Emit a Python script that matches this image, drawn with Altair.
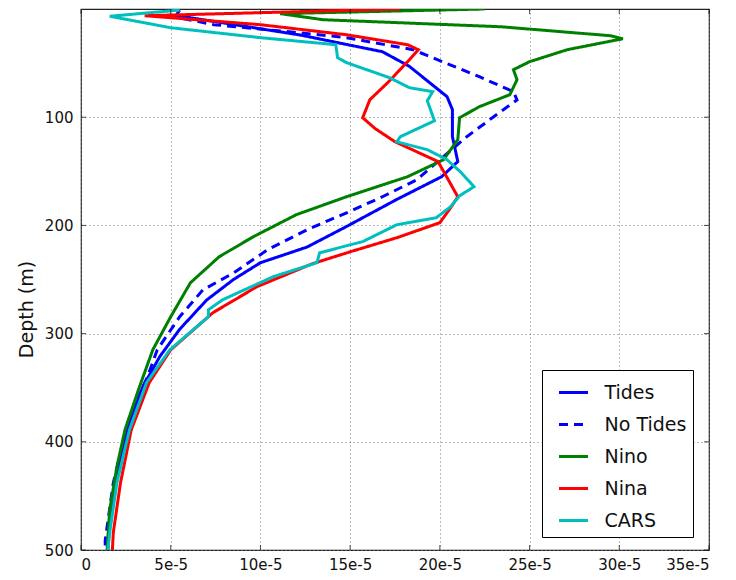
import altair as alt
import pandas as pd

# Values are in units of 1e-5 (axis labels read "5e-5", "10e-5", ...); depth in metres.
series_names = ["Tides", "No Tides", "Nino", "Nina", "CARS"]
series_colors = ["#0000ff", "#0000ff", "#008000", "#ff0000", "#00bfbf"]
series_dashes = [[1, 0], [9, 6], [1, 0], [1, 0], [1, 0]]

tides_depth = [1, 6, 24, 39.5, 53, 81, 93, 102, 118, 141, 155, 176, 201, 220, 234.5,
               250, 269, 296, 321, 349, 382, 432, 469, 500]
tides_value = [5.5, 5.3, 12.2, 16.8, 18.3, 20.4, 20.7, 20.7, 20.7, 21.0, 20.1, 17.6, 14.8,
               12.6, 10.0, 8.5, 7.0, 5.5, 4.4, 3.45, 2.7, 2.0, 1.6, 1.5]

notides_depth = [6, 14.5, 22, 26.5, 37.6, 62.6, 76.4, 84, 99.6, 118, 136.5, 158, 173.5,
                 185.5, 204, 222.5, 244, 259.5, 284.4, 315, 340, 377, 438, 491, 500]
notides_value = [4.85, 7.4, 12.2, 14.8, 18.5, 22.2, 24.1, 24.3, 23.0, 21.5, 20.2, 18.7,
                 16.8, 15.2, 12.6, 10.4, 8.5, 6.8, 5.5, 4.25, 3.7, 2.7, 1.8, 1.35, 1.35]

nino_depth = [0, 4.3, 9.9, 16.4, 24.7, 27.5, 37.6, 48.7, 56.1, 65.4, 79.2, 90.3, 100.5,
              120.8, 139.3, 155, 173.5, 190.1, 210.5, 229, 253, 284.4, 315, 352, 389, 423,
              463, 500]
nino_value = [22.5, 11.1, 13.5, 23.4, 29.5, 30.2, 27.1, 25.0, 24.1, 24.3, 23.9, 22.2, 21.1,
              21.0, 20.2, 18.2, 14.8, 12.0, 9.6, 7.7, 6.1, 5.0, 4.0, 3.2, 2.45, 2.0, 1.6, 1.45]

nina_depth = [0, 6.2, 14.5, 23.8, 33, 37.6, 46.9, 68, 83.8, 100.5, 110.6, 122.7, 141, 173.5,
              183.7, 197.5, 211.4, 224.4, 235.4, 256.7, 280.7, 315, 345.4, 389, 438, 484, 500]
nina_value = [17.8, 3.55, 10.0, 14.8, 18.2, 18.8, 18.3, 17.1, 16.1, 15.7, 16.4, 17.5, 19.9,
              21.0, 20.6, 20.0, 17.6, 15.0, 12.9, 9.8, 7.35, 5.0, 3.8, 2.8, 2.2, 1.8, 1.75]

cars_depth = [1, 6.7, 17.3, 26.5, 33, 45, 49.6, 63.5, 72.7, 76.4, 84.8, 103.3, 118, 122.7,
              130, 139.3, 151.3, 164.3, 172.6, 182.7, 192.9, 199.4, 215, 225.3, 234.5, 247.5,
              268.7, 278, 284.4, 296.5, 315, 345.4, 389, 438, 484, 500]
cars_value = [5.5, 1.6, 5.0, 10.0, 14.2, 14.3, 14.8, 17.2, 18.3, 19.6, 19.3, 19.7, 17.8, 17.6,
              19.3, 20.4, 21.2, 21.9, 21.1, 20.6, 19.8, 17.6, 15.7, 13.3, 13.15, 10.7, 7.9,
              7.1, 7.1, 6.25, 4.95, 3.65, 2.7, 2.0, 1.6, 1.5]

x_ticks = [0, 5, 10, 15, 20, 25, 30, 35]
y_ticks = [100, 200, 300, 400, 500]

all_depths = [tides_depth, notides_depth, nino_depth, nina_depth, cars_depth]
all_values = [tides_value, notides_value, nino_value, nina_value, cars_value]

rows = []
for name, depths, vals in zip(series_names, all_depths, all_values):
    for i, (d, v) in enumerate(zip(depths, vals)):
        rows.append({"series": name, "idx": i, "depth": d, "value": v})
df = pd.DataFrame(rows)

W, H = 628, 541
xscale = alt.Scale(domain=[0, 35], nice=False, zero=False)
yscale = alt.Scale(domain=[0, 500], reverse=True, nice=False, zero=False)

x_axis = alt.Axis(values=x_ticks, title=None, grid=True, ticks=False, tickSize=0,
                  domain=False, labelPadding=7,
                  labelExpr="datum.value == 0 ? '0' : datum.value + 'e-5'")
y_axis = alt.Axis(values=y_ticks, title="Depth (m)", grid=True, ticks=False,
                  tickSize=0, domain=False, labelPadding=8,
                  titleX=-55, titleY=300, titleAngle=270,
                  titleAlign="center", titleBaseline="middle")

lines = alt.Chart(df).mark_line(strokeWidth=3, clip=True).encode(
    x=alt.X("value:Q", scale=xscale, axis=x_axis),
    y=alt.Y("depth:Q", scale=yscale, axis=y_axis),
    color=alt.Color("series:N", scale=alt.Scale(domain=series_names, range=series_colors),
                    legend=alt.Legend(title=None)),
    strokeDash=alt.StrokeDash("series:N",
                              scale=alt.Scale(domain=series_names, range=series_dashes),
                              legend=alt.Legend(title=None)),
    order=alt.Order("idx:Q"),
)

xt_df = pd.DataFrame({"value": x_ticks})
yt_df = pd.DataFrame({"depth": y_ticks})

tick_len = 5
xt_bottom = alt.Chart(xt_df).mark_tick(orient="vertical", size=tick_len, thickness=1,
                                       color="black").encode(
    x=alt.X("value:Q", scale=xscale, axis=x_axis), y=alt.value(H - tick_len / 2))
xt_top = alt.Chart(xt_df).mark_tick(orient="vertical", size=tick_len, thickness=1,
                                    color="black").encode(
    x=alt.X("value:Q", scale=xscale, axis=x_axis), y=alt.value(tick_len / 2))
yt_left = alt.Chart(yt_df).mark_tick(orient="horizontal", size=tick_len, thickness=1,
                                     color="black").encode(
    y=alt.Y("depth:Q", scale=yscale, axis=y_axis), x=alt.value(tick_len / 2))
yt_right = alt.Chart(yt_df).mark_tick(orient="horizontal", size=tick_len, thickness=1,
                                      color="black").encode(
    y=alt.Y("depth:Q", scale=yscale, axis=y_axis), x=alt.value(W - tick_len / 2))

chart = alt.layer(lines, xt_bottom, xt_top, yt_left, yt_right).properties(
    width=W, height=H,
    autosize=alt.AutoSizeParams(type="none"),
    padding={"left": 81, "top": 9, "right": 27, "bottom": 30},
    background="white",
).configure_view(
    stroke="#222222", strokeWidth=1.2
).configure_axis(
    labelFont="DejaVu Sans", labelFontSize=15, labelColor="#111111",
    titleFont="DejaVu Sans", titleFontSize=19, titleColor="#111111",
    titleFontWeight="normal",
    gridColor="#777777", gridDash=[1, 3], gridWidth=1, gridOpacity=1,
).configure_legend(
    orient="none", legendX=461, legendY=361,
    padding=6.5, strokeColor="black", fillColor="white",
    symbolType="stroke", symbolSize=841, symbolStrokeWidth=3,
    symbolOffset=9, labelOffset=15, rowPadding=6,
    labelFont="DejaVu Sans", labelFontSize=19, labelColor="#111111", labelLimit=300,
)

chart.save("out.html", embed_options={"renderer": "svg", "actions": False})
